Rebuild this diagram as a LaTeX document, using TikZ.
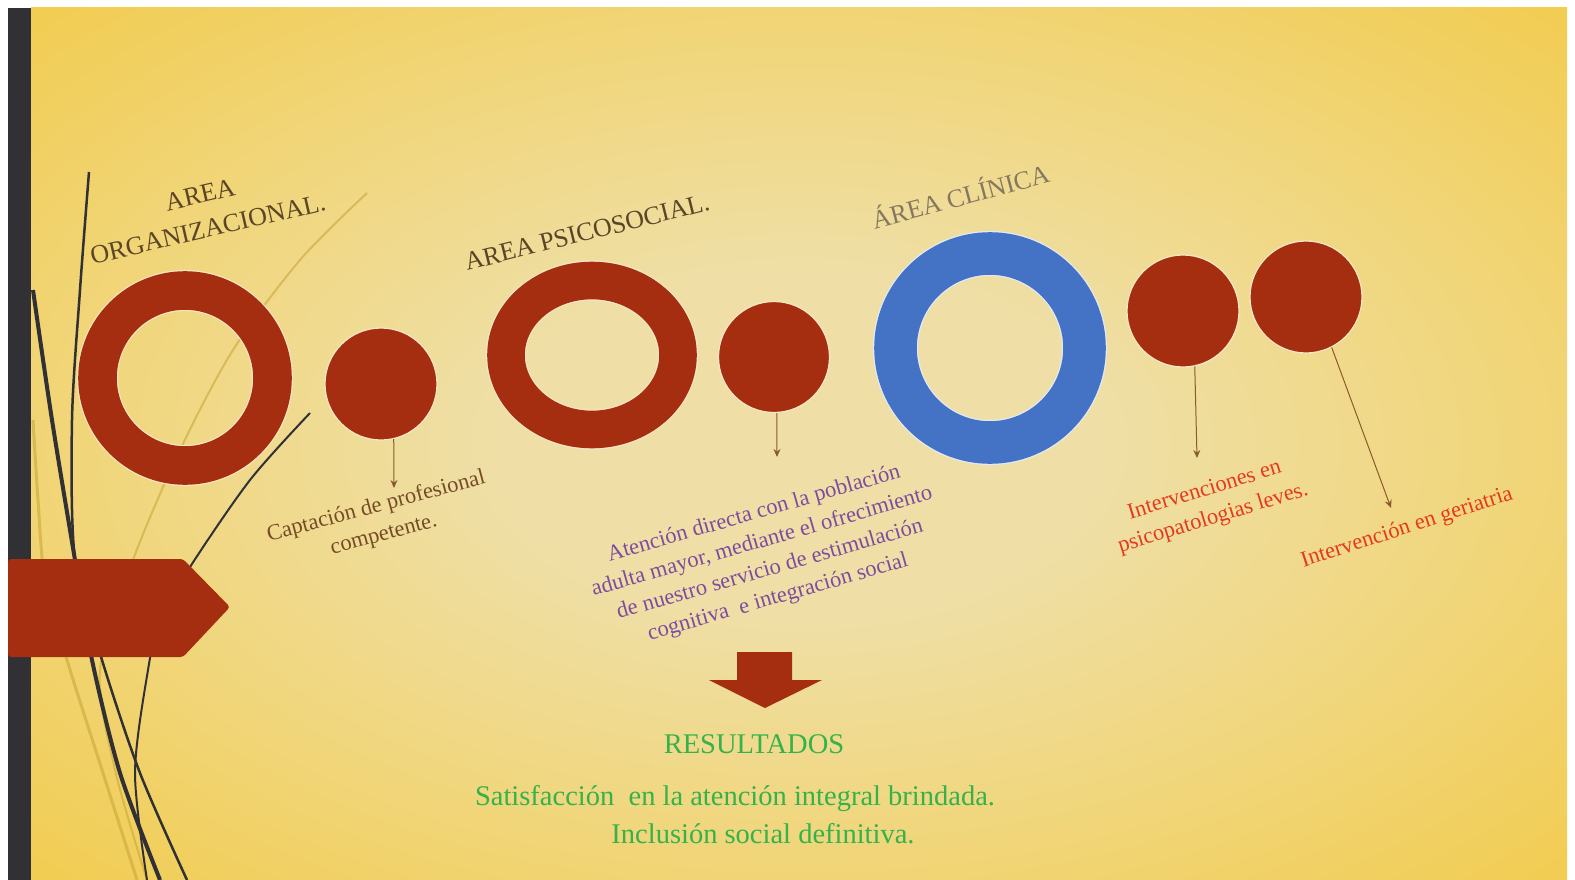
\documentclass[tikz,border=0pt]{standalone}
\usepackage{fontspec}
\setmainfont{Liberation Serif}
\usetikzlibrary{shapes.geometric,arrows.meta}

\definecolor{bgin}{HTML}{EFDFA6}
\definecolor{bgout}{HTML}{F3C52E}
\definecolor{barc}{HTML}{313135}
\definecolor{rojo}{HTML}{A62E10}
\definecolor{azul}{HTML}{4472C4}
\definecolor{crema}{HTML}{F7E7C4}
\definecolor{cafe}{HTML}{8A5A2E}
\definecolor{titulo}{HTML}{5A4526}
\definecolor{gris}{HTML}{857860}
\definecolor{morado}{HTML}{7E4C9E}
\definecolor{rojotxt}{HTML}{E53A1E}
\definecolor{verde}{HTML}{35B24A}
\definecolor{oliva}{HTML}{C9A83A}

\pgfdeclareradialshading{fondo}{\pgfpoint{0bp}{0bp}}{color(0bp)=(bgin); color(10bp)=(bgin); color(46bp)=(bgout); color(50bp)=(bgout)}

\tikzset{
  anillo/.style={circle, draw=crema, line width=1.2pt, double=rojo, inner sep=0pt},
  punto/.style={circle, fill=rojo, draw=crema, line width=1.2pt, inner sep=0pt, minimum size=112pt},
  flecha/.style={draw=cafe, line width=1pt, -{Stealth[length=8pt,width=7pt]}},
  wisp/.style={draw=barc, line width=4pt},
  wispclaro/.style={draw=oliva, line width=2pt, opacity=0.6},
  area/.style={font=\fontsize{26}{35}\selectfont, align=center},
  nota/.style={font=\fontsize{22.5}{29}\selectfont, align=center},
  resultado/.style={font=\fontsize{28.5}{34}\selectfont, text=verde}
}

\begin{document}
\begin{tikzpicture}[x=1pt, y=-1pt]

\useasboundingbox (0,0) rectangle (1575,880);
\fill[white] (0,0) rectangle (1575,880);

% Background
\shade[shading=fondo] (31,8) rectangle (1567,880);

% Wisps on the left
\draw[wispclaro] plot[smooth] coordinates {(367,193) (300,260) (233,350) (180,450) (133,560) (100,670) (115,770) (147,880)};
\draw[wispclaro, line width=3pt] plot[smooth] coordinates {(33,420) (38,500) (45,580) (67,660) (103,773) (137,880)};
\draw[wisp] plot[smooth] coordinates {(33,290) (52,420) (75,560) (92,660) (120,773) (160,880)};
\draw[wisp, line width=2.5pt] plot[smooth] coordinates {(89,172) (80,290) (72,420) (75,560) (102,660) (140,773) (187,880)};
\draw[wisp, line width=2pt] plot[smooth] coordinates {(310,413) (250,480) (190,567) (160,620) (148,670) (135,773) (147,880)};

% Dark bar and pentagon
\fill[barc] (8,8) rectangle (31,880);
\fill[rojo, rounded corners=3pt] (8,559) -- (183,559) -- (230,607) -- (183,657) -- (8,657) -- cycle;

% Rings
\node[anillo, double distance=38.6pt, minimum size=175pt] (org) at (185,378) {};
\node[anillo, ellipse, double distance=37.6pt, minimum width=172pt, minimum height=149pt] (psico) at (592,355) {};
\node[anillo, draw=white!85!azul, double=azul, double distance=42.6pt, minimum size=189pt] (clin) at (990,348) {};

% Small circles
\node[punto] (c1) at (381,384) {};
\node[punto, minimum size=111pt] (c2) at (774,357) {};
\node[punto] (c4) at (1183,311) {};
\node[punto] (c5) at (1306,297) {};

% Arrow tips
\coordinate (p1) at (394,488);
\coordinate (p2) at (777,457);
\coordinate (p4) at (1197,458);
\coordinate (p5) at (1391,508);

\draw[flecha] (c1.-77) -- (p1);
\draw[flecha] (c2.-87) -- (p2);
\draw[flecha] (c4.-78) -- (p4);
\draw[flecha] (c5.-63) -- (p5);

% Area titles
\node[area, text=titulo, rotate=13] (torg) at (204,212) {AREA\\ORGANIZACIONAL.};
\node[area, text=titulo, rotate=14] (tpsico) at (587,232) {AREA PSICOSOCIAL.};
\node[area, text=gris, rotate=15] (tclin) at (960,195) {ÁREA CLÍNICA};

% Notes
\node[nota, text=cafe!85!black, rotate=15] (n1) at (380,521) {Captación de profesional\\competente.};
\node[nota, text=morado, rotate=16] (n2) at (766,556) {Atención directa con la población\\adulta mayor, mediante el ofrecimiento\\de nuestro servicio de estimulación\\cognitiva\ \ e integración social};
\node[nota, text=rojotxt, rotate=17] (n4) at (1209,505) {Intervenciones en\\psicopatologias leves.};
\node[nota, text=rojotxt, rotate=18] (n5) at (1407,528) {Intervención en geriatria};

% Down arrow
\fill[rojo] (737,652) -- (792,652) -- (792,680) -- (822,680) -- (765,708) -- (709,680) -- (737,680) -- cycle;

% Results
\node[resultado] (res) at (754,744) {RESULTADOS};
\node[resultado] (sat) at (735,799) {Satisfacción\ \ en la atención integral\ brindada.};
\node[resultado] (inc) at (763,834) {Inclusión\ social\ definitiva.};

\end{tikzpicture}
\end{document}
